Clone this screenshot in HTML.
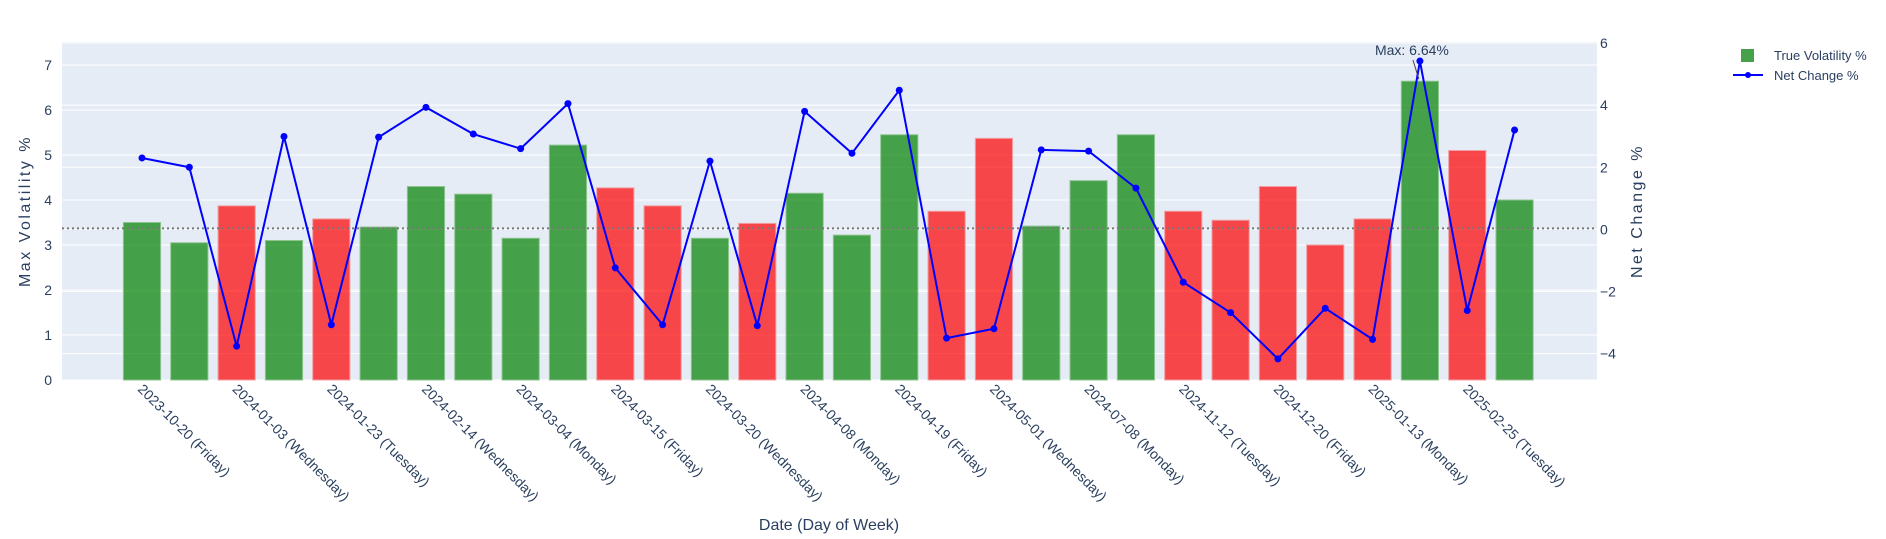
<!DOCTYPE html>
<html><head><meta charset="utf-8"><style>
body{margin:0;background:#fff;}
svg{display:block;font-family:"Liberation Sans",sans-serif;}
</style></head><body>
<svg id="chart" width="1886" height="539" xmlns="http://www.w3.org/2000/svg">
<rect x="62" y="42" width="1535" height="338" fill="#e5ecf6"/>
<g id="grid"></g><g id="bars"></g><g id="line"></g><g id="axes"></g>
<text x="30" y="211" transform="rotate(-90 30 211)" text-anchor="middle" font-size="16" letter-spacing="2.5" fill="#2a3f5f">Max Volatility %</text>
<text x="1642" y="211" transform="rotate(-90 1642 211)" text-anchor="middle" font-size="16" letter-spacing="2.5" fill="#2a3f5f">Net Change %</text>
<text x="829" y="530" text-anchor="middle" font-size="16" fill="#2a3f5f">Date (Day of Week)</text>
<g>
<g><rect x="1741" y="49" width="13" height="13" fill="#47a04a"/><text x="1774" y="60" font-size="13" fill="#2a3f5f">True Volatility %</text></g>
<g><line x1="1733" y1="75" x2="1763" y2="75" stroke="#0000ff" stroke-width="2"/><circle cx="1748" cy="75" r="3" fill="#0000ff"/><text x="1774" y="80" font-size="13" fill="#2a3f5f">Net Change %</text></g>
</g>
</svg>
<script>
const categories=["2023-10-20 (Friday)","c1","2024-01-03 (Wednesday)","c3","2024-01-23 (Tuesday)","c5","2024-02-14 (Wednesday)","c7","2024-03-04 (Monday)","c9","2024-03-15 (Friday)","c11","2024-03-20 (Wednesday)","c13","2024-04-08 (Monday)","c15","2024-04-19 (Friday)","c17","2024-05-01 (Wednesday)","c19","2024-07-08 (Monday)","c21","2024-11-12 (Tuesday)","c23","2024-12-20 (Friday)","c25","2025-01-13 (Monday)","c27","2025-02-25 (Tuesday)","c29"];
const volatility=[3.5,3.05,3.87,3.1,3.58,3.4,4.3,4.13,3.15,5.22,4.27,3.87,3.15,3.48,4.15,3.22,5.45,3.75,5.37,3.42,4.43,5.45,3.75,3.55,4.3,3.0,3.58,6.64,5.1,4.0];
const netChange=[2.3,2.0,-3.76,2.99,-3.07,2.97,3.93,3.07,2.6,4.05,-1.24,-3.07,2.2,-3.1,3.8,2.45,4.48,-3.5,-3.2,2.56,2.52,1.33,-1.7,-2.68,-4.17,-2.54,-3.54,5.42,-2.61,3.2];
const leftTicks=[0,1,2,3,4,5,6,7];
const rightTicks=[-4,-2,0,2,4,6];
const refLine=3.37;

const NS="http://www.w3.org/2000/svg";
const X0=62,X1=1597;
const xs=i=>142+i*47.33;
const yl=v=>380-v*45;
const yr=v=>229.4-v*31.06;
function mk(tag,attrs,parent){const e=document.createElementNS(NS,tag);for(const k in attrs)e.setAttribute(k,attrs[k]);parent.appendChild(e);return e;}
const grid=document.getElementById('grid'),bars=document.getElementById('bars'),line=document.getElementById('line'),axes=document.getElementById('axes');
leftTicks.forEach(t=>{
  const l=mk('line',{x1:X0,x2:X1,y1:yl(t),y2:yl(t),stroke:'#fff','stroke-width':1},grid);
  
  
  const tx=mk('text',{x:52,y:yl(t)+5,'text-anchor':'end','font-size':14,fill:'#2a3f5f'},axes);
  tx.textContent=t;
  
  
});
rightTicks.forEach(t=>{
  const l=mk('line',{x1:X0,x2:X1,y1:yr(t),y2:yr(t),stroke:'#fff','stroke-width':1},grid);
  
  
  const tx=mk('text',{x:1600,y:yr(t)+5,'font-size':14,fill:'#2a3f5f'},axes);
  tx.textContent=t<0?'\u2212'+(-t):t;
  
  
});
volatility.forEach((v,i)=>{
  const up=netChange[i]>=0;
  const r=mk('rect',{x:xs(i)-18.6,y:yl(v),width:37.2,height:yl(0)-yl(v),fill:up?'#008000':'#ff0000','fill-opacity':0.7,stroke:up?'#8fc48f':'#f0a0a4','stroke-width':1},bars);
  
  
});
const ref=mk('line',{x1:X0,x2:X1,y1:yl(refLine),y2:yl(refLine),stroke:'#777','stroke-width':2,'stroke-dasharray':'2,3'},bars);


const pl=mk('polyline',{points:netChange.map((v,i)=>xs(i)+','+yr(v)).join(' '),fill:'none',stroke:'#0000ff','stroke-width':2},line);


netChange.forEach((v,i)=>{
  const c=mk('circle',{cx:xs(i),cy:yr(v),r:3.5,fill:'#0000ff'},line);
  
  
});
categories.forEach((c,i)=>{
  if(i%2) return;
  const x=xs(i)-5,y=390;
  const t=mk('text',{x:x,y:y,transform:`rotate(45 ${x} ${y})`,'font-size':14,fill:'#2a3f5f'},axes);
  t.textContent=c;
  
  
});
let mi=0;volatility.forEach((v,i)=>{if(v>volatility[mi])mi=i;});
const ann=mk('text',{x:xs(mi)-8,y:55,'text-anchor':'middle','font-size':14,fill:'#2a3f5f'},axes);
ann.textContent='Max: '+volatility[mi].toFixed(2)+'%';


const ar=mk('line',{x1:xs(mi)-7,y1:60,x2:xs(mi)-1,y2:yl(volatility[mi])-2,stroke:'#444','stroke-width':1},axes);


</script>
</body></html>
